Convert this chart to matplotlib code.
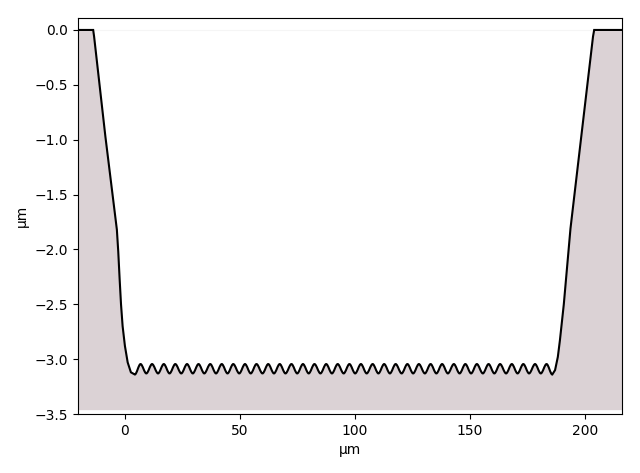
import matplotlib
matplotlib.use("Agg")
import matplotlib.pyplot as plt
from matplotlib.path import Path
from matplotlib.patches import PathPatch

# ---- data (µm) ----
left_wall_x = [-20.4, -13.8, -13.4, -8.5, -3.5, -2.9, -2.3, -1.7, -1.0, 0.0, 1.2, 2.6]
left_wall_y = [0.0, 0.0, -0.06, -0.97, -1.82, -2.02, -2.27, -2.5, -2.7, -2.88, -3.03, -3.12]

trough_x = [4.3, 9.3, 14.4, 19.4, 24.5, 29.5, 34.5, 39.6, 44.6, 49.7, 54.7, 59.8, 64.8,
            69.8, 74.9, 79.9, 85.0, 90.0, 95.1, 100.1, 105.1, 110.2, 115.2, 120.3, 125.3,
            130.4, 135.4, 140.4, 145.5, 150.5, 155.6, 160.6, 165.7, 170.7, 175.7, 180.8, 185.8]
trough_y = [-3.14] + [-3.13] * 35 + [-3.14]
peak_x = [6.8, 11.8, 16.9, 21.9, 27.0, 32.0, 37.1, 42.1, 47.1, 52.2, 57.2, 62.3, 67.3,
          72.4, 77.4, 82.4, 87.5, 92.5, 97.6, 102.6, 107.7, 112.7, 117.7, 122.8, 127.8,
          132.9, 137.9, 143.0, 148.0, 153.0, 158.1, 163.1, 168.2, 173.2, 178.3, 183.3]
peak_y = [-3.045] * 36

right_wall_x = [187.0, 188.2, 189.1, 190.8, 193.7, 198.4, 203.5, 204.0, 216.1]
right_wall_y = [-3.10, -2.98, -2.83, -2.5, -1.81, -0.97, -0.06, 0.0, 0.0]

fill_bottom = -3.465
x_range = (-20.4, 216.1)
y_range = (-3.5, 0.109)

# ---- build path ----
verts = []
codes = []
for i, (x, y) in enumerate(zip(left_wall_x, left_wall_y)):
    verts.append((x, y))
    codes.append(Path.MOVETO if i == 0 else Path.LINETO)
verts.append((trough_x[0], trough_y[0]))
codes.append(Path.LINETO)
keys = []
for i in range(len(peak_x)):
    keys.append((peak_x[i], peak_y[i]))
    keys.append((trough_x[i + 1], trough_y[i + 1]))
prev = (trough_x[0], trough_y[0])
for k in keys:
    dx = k[0] - prev[0]
    verts += [(prev[0] + dx / 3, prev[1]), (k[0] - dx / 3, k[1]), k]
    codes += [Path.CURVE4] * 3
    prev = k
for x, y in zip(right_wall_x, right_wall_y):
    verts.append((x, y))
    codes.append(Path.LINETO)

line_path = Path(verts, codes)
fill_path = Path(verts + [(right_wall_x[-1], fill_bottom), (left_wall_x[0], fill_bottom), (0, 0)],
                 codes + [Path.LINETO, Path.LINETO, Path.CLOSEPOLY])

fig = plt.figure(figsize=(6.4, 4.73), dpi=100)
ax = fig.add_axes([78 / 640, 59 / 473, 544 / 640, 396 / 473])
ax.axhline(0.0, color="#f5f5f5", lw=0.8, zorder=0.5)
ax.add_patch(PathPatch(fill_path, facecolor="#dbd2d5", edgecolor="none", zorder=1))
ax.add_patch(PathPatch(line_path, facecolor="none", edgecolor="black", lw=1.5, zorder=2))
ax.set_xlim(*x_range)
ax.set_ylim(*y_range)
ax.set_xticks([0, 50, 100, 150, 200])
ax.set_yticks([0.0, -0.5, -1.0, -1.5, -2.0, -2.5, -3.0, -3.5])
ax.set_xlabel("µm")
ax.set_ylabel("µm")
fig.savefig("out.png", dpi=100)
